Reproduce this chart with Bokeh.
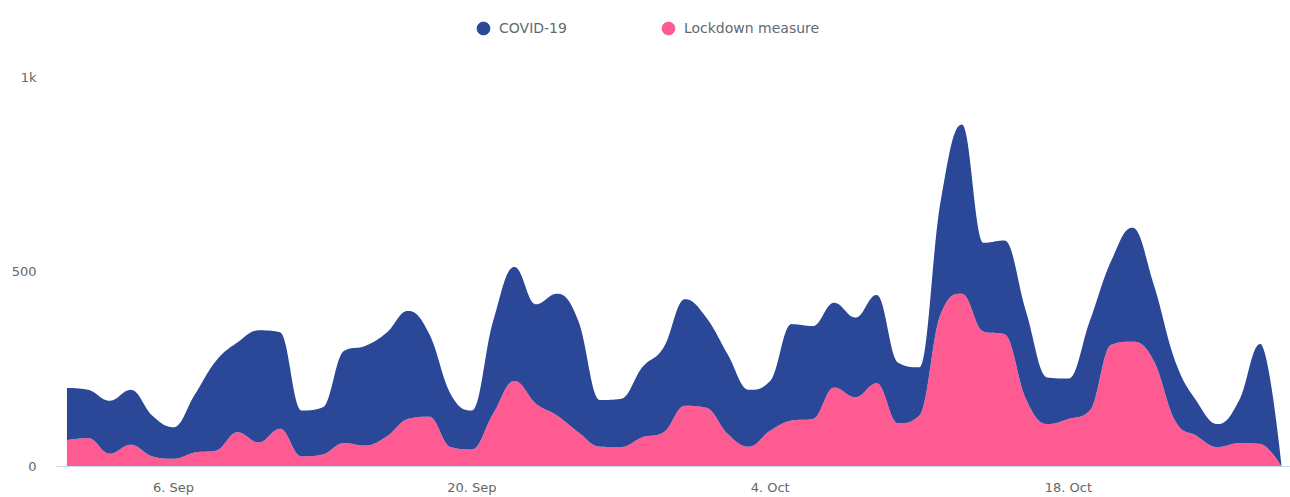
import numpy as np
import pandas as pd
from bokeh.plotting import figure
from bokeh.models import Range1d, FixedTicker, Legend, LegendItem, ColumnDataSource
from bokeh.embed import file_html
from bokeh.resources import INLINE

# ---------------- data ----------------
dates = [d.strftime("%Y-%m-%d") for d in pd.date_range("2020-09-01", "2020-10-28")]
covid = [134, 124, 136, 141, 105, 81, 149,
         231, 231, 288, 248, 118, 121, 237,
         256, 267, 278, 213, 137, 100, 238,
         293, 255, 313, 286, 120, 124, 180,
         218, 274, 232, 205, 146, 128, 248,
         239, 218, 205, 227, 156, 124, 290,
         435, 228, 241, 226, 120, 104, 230,
         215, 293, 196, 154, 90, 59, 109,
         257, 0]
lockdown = [68, 73, 33, 56, 26, 20, 36,
            41, 88, 62, 97, 26, 31, 60,
            54, 77, 122, 128, 50, 44, 136,
            220, 162, 131, 88, 51, 50, 75,
            88, 156, 151, 84, 51, 92, 118,
            122, 203, 178, 214, 111, 131, 392,
            444, 347, 340, 174, 109, 122, 144,
            313, 321, 272, 118, 79, 50, 60,
            58, 0]
series_names = ["COVID-19", "Lockdown measure"]
series_colors = ["#2b4898", "#ff5b93"]
tick_dates = ["2020-09-06", "2020-09-20", "2020-10-04", "2020-10-18"]
tick_labels = ["6. Sep", "20. Sep", "4. Oct", "18. Oct"]
y_ticks = [0, 500, 1000]
y_tick_labels = ["0", "500", "1k"]

# ---------------- helpers ----------------
d0 = pd.Timestamp(dates[0])
xs = [(pd.Timestamp(d) - d0).days for d in dates]
tick_x = [(pd.Timestamp(d) - d0).days for d in tick_dates]


def spline_controls(xv, yv, s=1.5):
    n = len(xv)
    lc = [(xv[i], yv[i]) for i in range(n)]
    rc = list(lc)
    den = s + 1
    for i in range(1, n - 1):
        x, y = xv[i], yv[i]
        lx, ly = xv[i - 1], yv[i - 1]
        nx, ny = xv[i + 1], yv[i + 1]
        lcx = (s * x + lx) / den
        lcy = (s * y + ly) / den
        rcx = (s * x + nx) / den
        rcy = (s * y + ny) / den
        corr = 0.0
        if rcx != lcx:
            corr = (rcy - lcy) * (rcx - x) / (rcx - lcx) + y - rcy
        lcy += corr
        rcy += corr
        if lcy > ly and lcy > y:
            lcy = max(ly, y); rcy = 2 * y - lcy
        elif lcy < ly and lcy < y:
            lcy = min(ly, y); rcy = 2 * y - lcy
        if rcy > ny and rcy > y:
            rcy = max(ny, y); lcy = 2 * y - rcy
        elif rcy < ny and rcy < y:
            rcy = min(ny, y); lcy = 2 * y - rcy
        lc[i] = (lcx, lcy)
        rc[i] = (rcx, rcy)
    return lc, rc


def sample_spline(xv, yv, m=30):
    lc, rc = spline_controls(xv, yv)
    t = np.linspace(0, 1, m, endpoint=False)
    a = (1 - t) ** 3
    b = 3 * (1 - t) ** 2 * t
    c = 3 * (1 - t) * t ** 2
    d = t ** 3
    X, Y = [], []
    for i in range(1, len(xv)):
        p0 = (xv[i - 1], yv[i - 1]); p1 = rc[i - 1]; p2 = lc[i]; p3 = (xv[i], yv[i])
        X.append(a * p0[0] + b * p1[0] + c * p2[0] + d * p3[0])
        Y.append(a * p0[1] + b * p1[1] + c * p2[1] + d * p3[1])
    X.append(np.array([xv[-1]], dtype=float))
    Y.append(np.array([yv[-1]], dtype=float))
    return np.concatenate(X), np.concatenate(Y)


totals = [c + l for c, l in zip(covid, lockdown)]
X, Ytop = sample_spline(xs, totals)
_, Ylow = sample_spline(xs, lockdown)
src = ColumnDataSource(dict(x=X, top=Ytop, low=Ylow, zero=np.zeros_like(X)))

# ---------------- figure ----------------
W, H = 1290, 497
p = figure(width=W, height=H, output_backend="svg", toolbar_location=None,
           x_range=Range1d(-0.537, 57.42), y_range=Range1d(0, 1172.2),
           min_border_left=55, min_border_right=0, min_border_top=10, min_border_bottom=31)
p.background_fill_color = "white"
p.border_fill_color = "white"
p.outline_line_color = None
p.grid.visible = False

p.varea(x="x", y1="zero", y2="low", source=src, fill_color=series_colors[1])
p.varea(x="x", y1="low", y2="top", source=src, fill_color=series_colors[0])

# axes
p.xaxis.ticker = FixedTicker(ticks=tick_x)
p.xaxis.major_label_overrides = {tx: lab for tx, lab in zip(tick_x, tick_labels)}
p.xaxis.axis_line_color = "#ccd6eb"
p.xaxis.major_tick_line_color = None
p.xaxis.minor_tick_line_color = None
p.xaxis.major_tick_out = 0
p.xaxis.major_tick_in = 0
p.xaxis.major_label_standoff = 13
p.xaxis.major_label_text_font = "DejaVu Sans"
p.xaxis.major_label_text_font_size = "13px"
p.xaxis.major_label_text_color = "#666666"

p.yaxis.ticker = FixedTicker(ticks=y_ticks)
p.yaxis.major_label_overrides = {t: lab for t, lab in zip(y_ticks, y_tick_labels)}
p.yaxis.axis_line_color = None
p.yaxis.major_tick_line_color = None
p.yaxis.minor_tick_line_color = None
p.yaxis.major_tick_out = 0
p.yaxis.major_tick_in = 0
p.yaxis.major_label_standoff = 19
p.yaxis.major_label_text_font = "DejaVu Sans"
p.yaxis.major_label_text_font_size = "13px"
p.yaxis.major_label_text_color = "#666666"

# legend (circle markers); the proxy renderers hold a NaN point so nothing is plotted
proxy = ColumnDataSource(dict(x=[np.nan], y=[np.nan]))
r1 = p.scatter("x", "y", source=proxy, marker="circle", size=13,
               fill_color=series_colors[0], line_color=series_colors[0])
r2 = p.scatter("x", "y", source=proxy, marker="circle", size=13,
               fill_color=series_colors[1], line_color=series_colors[1])
legend = Legend(items=[LegendItem(label=series_names[0], renderers=[r1], index=0),
                       LegendItem(label=series_names[1], renderers=[r2], index=0)],
                orientation="horizontal", location=(412, 422),
                spacing=85, padding=0, margin=0, label_standoff=0,
                glyph_width=32, glyph_height=32,
                border_line_alpha=0, background_fill_alpha=0,
                label_text_font="DejaVu Sans", label_text_font_size="14px",
                label_text_color="#5f6a73")
p.add_layout(legend)

open("out.html", "w").write(file_html(p, INLINE))
